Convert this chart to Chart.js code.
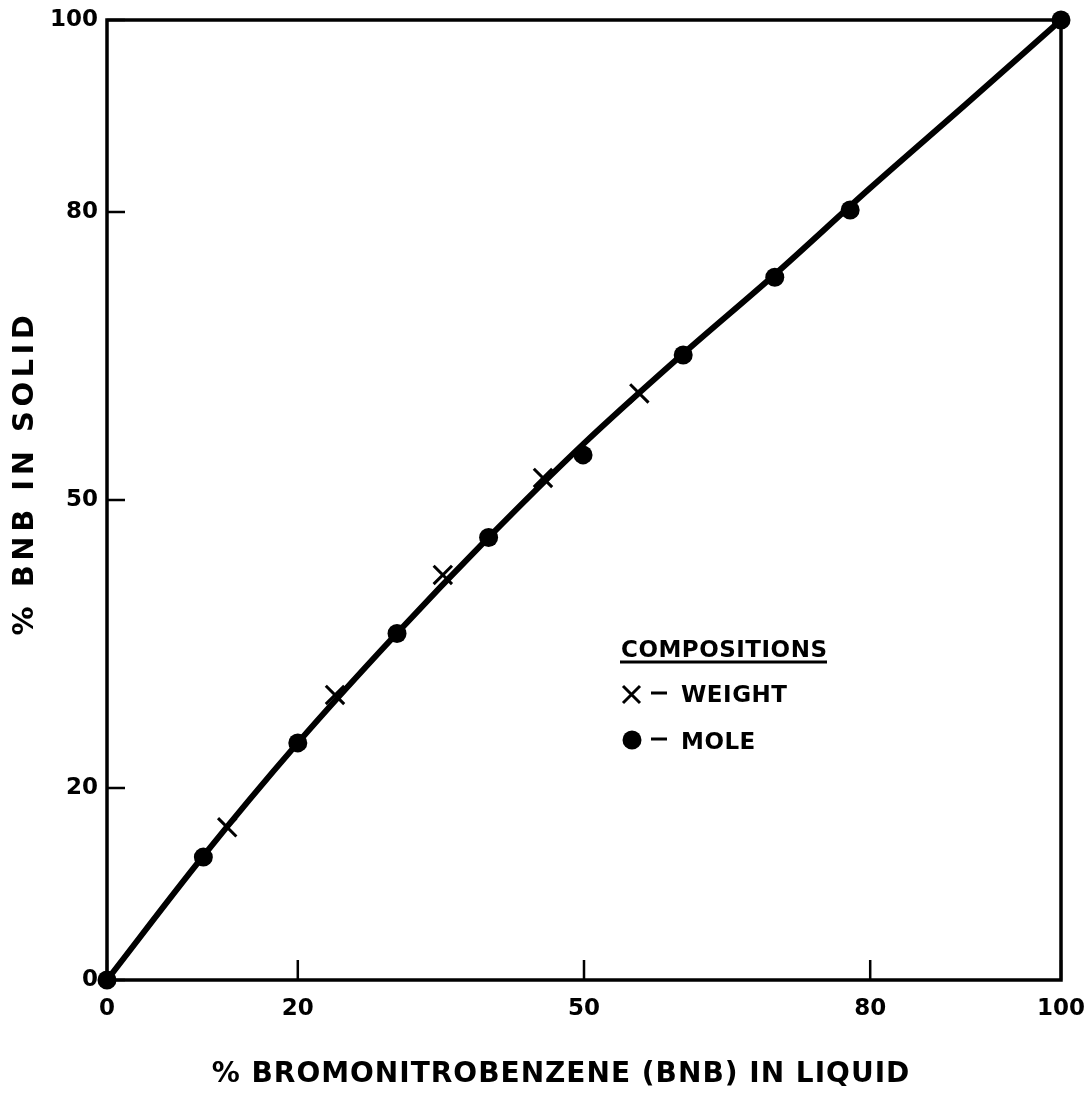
<!DOCTYPE html>
<html>
<head>
<meta charset="utf-8">
<script src="https://cdn.jsdelivr.net/npm/chart.js@4/dist/chart.umd.min.js"></script>
<style>
  html, body { margin: 0; padding: 0; background: #fff; }
  #wrap { width: 1088px; height: 1095px; }
</style>
</head>
<body>
<div id="wrap"><canvas id="bnb"></canvas></div>
<script>
// tick labels
const xTicks = [0, 20, 50, 80, 100];
const yTicks = [0, 20, 50, 80, 100];

// smooth curve drawn through the data
const curveX = [0, 10, 20, 30, 40, 50, 60, 70, 80, 90, 100];
const curveY = [0, 12.8, 24.7, 35.7, 46.1, 55.9, 64.9, 73.5, 82.5, 91.2, 100];

// mole compositions (filled dots)
const moleX = [0, 10.1, 20.0, 30.4, 40.0, 49.9, 60.4, 70.0, 77.9, 100];
const moleY = [0, 12.8, 24.7, 36.1, 46.1, 54.7, 65.1, 73.2, 80.2, 100];

// weight compositions (crosses)
const weightX = [12.6, 23.9, 35.2, 45.7, 55.8];
const weightY = [15.9, 29.7, 42.2, 52.3, 61.1];

const xTitle = '% BROMONITROBENZENE (BNB) IN LIQUID';
const yTitle = '% BNB IN SOLID';

const FONT = "'DejaVu Sans', sans-serif";

function pts(xs, ys) {
  return xs.map((x, i) => ({x: x, y: ys[i]}));
}

const spacing = {
  id: 'spacing',
  beforeInit(chart) {
    chart.ctx.letterSpacing = '2px';
  }
};

const frame = {
  id: 'frame',
  beforeDatasetsDraw(chart) {
    const {ctx, chartArea: a, scales} = chart;
    ctx.save();
    ctx.strokeStyle = '#000';
    ctx.lineWidth = 3.5;
    ctx.strokeRect(a.left, a.top, a.right - a.left, a.bottom - a.top);
    ctx.lineWidth = 2.5;
    ctx.beginPath();
    xTicks.forEach(v => {
      const px = scales.x.getPixelForValue(v);
      ctx.moveTo(px, a.bottom);
      ctx.lineTo(px, a.bottom - 20);
    });
    yTicks.forEach(v => {
      const py = scales.y.getPixelForValue(v);
      ctx.moveTo(a.left, py);
      ctx.lineTo(a.left + 18, py);
    });
    ctx.stroke();
    ctx.restore();
  },
  afterDraw(chart) {
    const ctx = chart.ctx;
    ctx.save();
    ctx.fillStyle = '#000';
    ctx.strokeStyle = '#000';

    // axis titles
    ctx.textAlign = 'center';
    ctx.textBaseline = 'middle';
    ctx.font = 'bold 28px ' + FONT;
    ctx.letterSpacing = '1px';
    ctx.fillText(xTitle, 561, 1075);
    ctx.save();
    ctx.translate(25, 473);
    ctx.rotate(-Math.PI / 2);
    ctx.font = 'bold 29px ' + FONT;
    ctx.letterSpacing = '4.5px';
    ctx.fillText(yTitle, 0, 0);
    ctx.restore();

    // legend box
    ctx.font = 'bold 23px ' + FONT;
    ctx.letterSpacing = '0.5px';
    ctx.textBaseline = 'alphabetic';
    ctx.textAlign = 'left';
    ctx.fillText('COMPOSITIONS', 621, 657);
    ctx.lineWidth = 3;
    ctx.beginPath();
    ctx.moveTo(620, 662);
    ctx.lineTo(827, 662);
    ctx.stroke();

    // cross key
    ctx.lineWidth = 3;
    ctx.beginPath();
    ctx.moveTo(623, 686); ctx.lineTo(640, 703);
    ctx.moveTo(640, 686); ctx.lineTo(623, 703);
    ctx.moveTo(651, 693); ctx.lineTo(667, 693);
    ctx.stroke();
    ctx.fillText('WEIGHT', 681, 702);

    // dot key
    ctx.beginPath();
    ctx.arc(632, 740, 9.5, 0, Math.PI * 2);
    ctx.fill();
    ctx.beginPath();
    ctx.moveTo(651, 739); ctx.lineTo(667, 739);
    ctx.stroke();
    ctx.fillText('MOLE', 681, 749);
    ctx.restore();
  }
};

const ctx = document.getElementById('bnb').getContext('2d');
const chart = new Chart(ctx, {
  type: 'scatter',
  data: {
    datasets: [
      {
        label: 'curve',
        type: 'line',
        data: pts(curveX, curveY),
        borderColor: '#000',
        borderWidth: 6,
        borderCapStyle: 'round',
        cubicInterpolationMode: 'monotone',
        pointRadius: 0,
        fill: false,
        order: 3
      },
      {
        label: 'Weight',
        data: pts(weightX, weightY),
        pointStyle: 'crossRot',
        pointRadius: 13,
        borderColor: '#000',
        pointBorderWidth: 3,
        order: 2
      },
      {
        label: 'Mole',
        data: pts(moleX, moleY),
        pointStyle: 'circle',
        pointRadius: 9.5,
        backgroundColor: '#000',
        borderColor: '#000',
        pointBorderWidth: 0,
        order: 1
      }
    ]
  },
  options: {
    responsive: true,
    maintainAspectRatio: false,
    animation: false,
    clip: false,
    layout: {
      padding: {top: 20, right: 27, left: 0, bottom: 0}
    },
    plugins: {
      legend: {display: false},
      tooltip: {enabled: false}
    },
    scales: {
      x: {
        type: 'linear',
        min: 0,
        max: 100,
        afterBuildTicks: s => { s.ticks = xTicks.map(v => ({value: v})); },
        afterFit: s => { s.height = 115; s.paddingLeft = 0; s.paddingRight = 0; },
        grid: {display: false, drawTicks: false},
        border: {display: false},
        ticks: {
          color: '#000',
          padding: 15,
          font: {family: FONT, size: 23, weight: 'bold'}
        },
        title: {display: false}
      },
      y: {
        type: 'linear',
        min: 0,
        max: 100,
        afterBuildTicks: s => { s.ticks = yTicks.map(v => ({value: v})); },
        afterFit: s => { s.width = 107; s.paddingTop = 0; s.paddingBottom = 0; },
        grid: {display: false, drawTicks: false},
        border: {display: false},
        ticks: {
          color: '#000',
          padding: 9,
          font: {family: FONT, size: 23, weight: 'bold'}
        },
        title: {display: false}
      }
    }
  },
  plugins: [spacing, frame]
});
</script>
</body>
</html>
